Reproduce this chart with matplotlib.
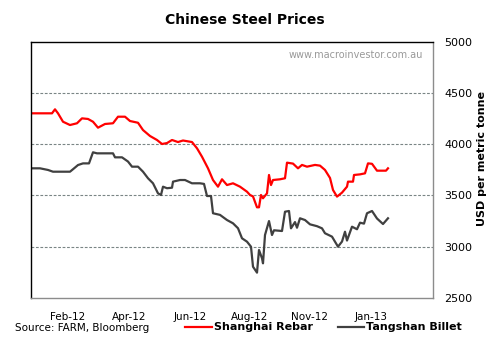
import numpy as np
import matplotlib.pyplot as plt

# trading-day index (0 = start of series) and prices, USD per metric tonne
rebar_day = [0, 21, 24, 27, 32, 39, 46, 51, 57, 62, 67, 74, 82, 87, 94, 99,
             107, 112, 119, 126, 131, 136, 141, 147, 152, 161, 166, 171, 177,
             182, 187, 191, 196, 202, 209, 216, 219, 222, 226, 228, 230, 232,
             236, 238, 240, 242, 249, 254, 256, 262, 267, 271, 276, 284, 289,
             294, 299, 302, 306, 311, 316, 317, 322, 323, 329, 334, 337, 341,
             346, 355, 357]
rebar = [4300, 4300, 4339, 4300, 4218, 4186, 4203, 4251, 4245, 4218, 4160,
         4196, 4203, 4267, 4267, 4225, 4208, 4137, 4079, 4040, 4001, 4010,
         4040, 4020, 4035, 4020, 3959, 3877, 3764, 3650, 3585, 3657, 3601,
         3618, 3585, 3536, 3504, 3490, 3384, 3384, 3504, 3472, 3520, 3699,
         3601, 3650, 3657, 3667, 3819, 3810, 3764, 3797, 3780, 3797, 3790,
         3748, 3670, 3553, 3488, 3527, 3585, 3634, 3634, 3699, 3705, 3715,
         3812, 3808, 3741, 3741, 3764]

billet_day = [0, 9, 17, 22, 39, 42, 47, 52, 58, 62, 66, 82, 84, 91, 97, 101,
              107, 112, 117, 122, 127, 130, 132, 136, 141, 142, 149, 154, 161,
              169, 173, 176, 180, 182, 189, 196, 202, 207, 211, 216, 220, 222,
              226, 228, 231, 232, 234, 238, 241, 243, 251, 254, 258, 260, 264,
              266, 269, 274, 279, 286, 291, 294, 301, 307, 311, 314, 316, 321,
              326, 329, 333, 336, 341, 346, 352, 357]
billet = [3764, 3764, 3748, 3731, 3731, 3755, 3796, 3812, 3812, 3920, 3910,
          3910, 3871, 3871, 3830, 3780, 3780, 3731, 3667, 3618, 3520, 3504,
          3585, 3570, 3575, 3634, 3650, 3650, 3618, 3618, 3612, 3494, 3494,
          3326, 3310, 3260, 3228, 3180, 3082, 3049, 3000, 2805, 2747, 2968,
          2887, 2838, 3114, 3250, 3114, 3160, 3153, 3341, 3348, 3179, 3240,
          3185, 3277, 3260, 3218, 3200, 3179, 3131, 3098, 3000, 3050, 3146,
          3060, 3195, 3170, 3234, 3225, 3326, 3348, 3275, 3221, 3277]

tick_days = [37, 98, 159, 219, 279, 340]
tick_labels = ['Feb-12', 'Apr-12', 'Jun-12', 'Aug-12', 'Nov-12', 'Jan-13']
y_ticks = [2500, 3000, 3500, 4000, 4500, 5000]

W, H = 493, 341
plt.rcParams['font.family'] = ['DejaVu Sans']

fig = plt.figure(figsize=(W / 100, H / 100), dpi=100)
ax = fig.add_axes([31 / W, 1 - 298 / H, (433 - 31) / W, (298 - 41.5) / H])

ax.plot(rebar_day, rebar, color='#ff0000', lw=1.6, solid_joinstyle='round')
ax.plot(billet_day, billet, color='#404040', lw=1.6, solid_joinstyle='round')

ax.set_xlim(0, 402)
ax.set_ylim(2500, 5000)
ax.set_yticks(y_ticks)
ax.yaxis.tick_right()
ax.tick_params(axis='y', length=0, pad=8, labelsize=8)
for y in [3000, 3500, 4000, 4500]:
    ax.axhline(y, color='#7a8585', lw=0.8, ls=(0, (2.5, 1.5)), zorder=0)

ax.set_xticks(tick_days)
ax.set_xticklabels(tick_labels)
ax.tick_params(axis='x', length=0, pad=10, labelsize=7.5)

ax.spines['left'].set_color('black')
ax.spines['top'].set_color('black')
ax.spines['right'].set_color('#8c8c8c')
ax.spines['bottom'].set_color('#8c8c8c')
for s in ax.spines.values():
    s.set_linewidth(1.0)

ax.text(0.975, 0.965, 'www.macroinvestor.com.au', transform=ax.transAxes,
        ha='right', va='top', fontsize=7, color='#999999')

fig.text(245 / W, 1 - 20 / H, 'Chinese Steel Prices', ha='center',
         va='center', fontsize=10, fontweight='bold')
fig.text(482 / W, 1 - 159 / H, 'USD per metric tonne', rotation=90,
         ha='center', va='center', fontsize=8, fontweight='bold')
fig.text(15 / W, 1 - 328 / H, 'Source: FARM, Bloomberg', ha='left',
         va='center', fontsize=7.5)

# legend row drawn by hand along the bottom
fig.add_artist(plt.Line2D([185 / W, 212 / W], [1 - 327 / H, 1 - 327 / H],
                          color='#ff0000', lw=1.6))
fig.text(214 / W, 1 - 327 / H, 'Shanghai Rebar', ha='left', va='center',
         fontsize=8, fontweight='bold')
fig.add_artist(plt.Line2D([338 / W, 364 / W], [1 - 327 / H, 1 - 327 / H],
                          color='#404040', lw=1.6))
fig.text(366 / W, 1 - 327 / H, 'Tangshan Billet', ha='left', va='center',
         fontsize=8, fontweight='bold')

fig.savefig('out.png', dpi=100)
